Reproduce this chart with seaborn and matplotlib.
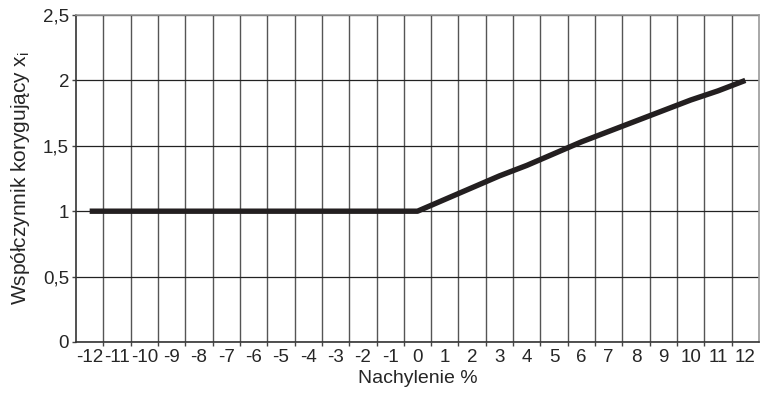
import matplotlib
matplotlib.use("Agg")
import matplotlib.pyplot as plt
import seaborn as sns
import pandas as pd
from matplotlib.ticker import FixedLocator

slope = [-12, -11, -10, -9, -8, -7, -6, -5, -4, -3, -2, -1, 0,
         1, 2, 3, 4, 5, 6, 7, 8, 9, 10, 11, 12]
factor = [1.0, 1.0, 1.0, 1.0, 1.0, 1.0, 1.0, 1.0, 1.0, 1.0, 1.0, 1.0, 1.0,
          1.09, 1.18, 1.27, 1.35, 1.44, 1.53, 1.61, 1.69, 1.77, 1.85, 1.92, 2.0]
y_ticks = [0, 0.5, 1, 1.5, 2, 2.5]
y_tick_labels = ["0", "0,5", "1", "1,5", "2", "2,5"]
x_tick_labels = [str(v) for v in slope]

sns.set_style("white")
plt.rcParams['font.family'] = ['Liberation Sans', 'DejaVu Sans']

df = pd.DataFrame({"slope": slope, "factor": factor})

fig = plt.figure(figsize=(7.61, 3.94), dpi=100)
ax = fig.add_axes([76/761, 1 - 342/394, (759-76)/761, (342-15)/394])

sns.lineplot(data=df, x="slope", y="factor", ax=ax, color="#231f20",
             linewidth=3.9, solid_capstyle="butt")

ax.set_xlim(-12.5, 12.5)
ax.set_ylim(0, 2.5)
ax.set_xticks(slope)
ax.set_xticklabels(x_tick_labels, fontsize=13.5)
ax.xaxis.set_minor_locator(FixedLocator([v + 0.5 for v in slope[:-1]]))
ax.tick_params(axis="x", which="major", length=0, pad=5)
ax.tick_params(axis="x", which="minor", length=3, width=1, color="#444444", direction="out", bottom=True)
ax.set_yticks(y_ticks)
ax.set_yticklabels(y_tick_labels, fontsize=13.5)
ax.tick_params(axis="y", which="major", length=3, width=1, color="#444444", direction="out", left=True, pad=2)

ax.grid(False)
ax.grid(True, axis="x", which="minor", color="#555555", linewidth=1)
ax.grid(True, axis="y", which="major", color="#222222", linewidth=0.9)
ax.set_axisbelow(True)

for side in ["left", "bottom"]:
    ax.spines[side].set_color("#333333")
    ax.spines[side].set_linewidth(1.2)
for side in ["top", "right"]:
    ax.spines[side].set_color("#999999")
    ax.spines[side].set_linewidth(1.2)

ax.set_xlabel("Nachylenie %", fontsize=14, labelpad=3)
ax.set_ylabel("Współczynnik korygujący x$_\\mathregular{i}$", fontsize=15, labelpad=8)

fig.savefig("out.png", dpi=100)
